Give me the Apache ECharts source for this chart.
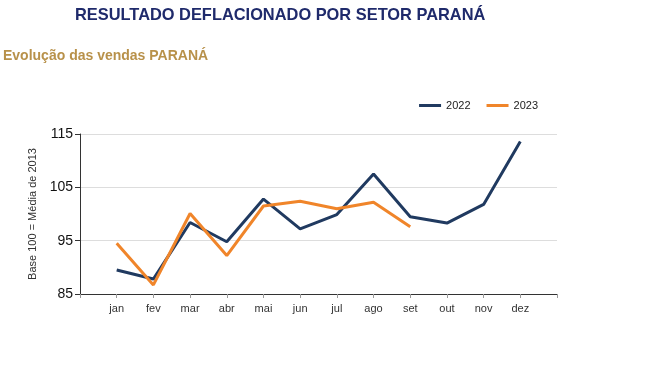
<!DOCTYPE html>
<html>
<head>
<meta charset="utf-8">
<script src="https://cdn.jsdelivr.net/npm/echarts@6/dist/echarts.min.js"></script>
<style>html,body{margin:0;padding:0;background:#fff;}#c{width:650px;height:384px;}</style>
</head>
<body>
<div id="c"></div>
<script>
const months = ['jan','fev','mar','abr','mai','jun','jul','ago','set','out','nov','dez'];
const values2022 = [89.5, 87.8, 98.4, 94.8, 102.8, 97.2, 99.9, 107.5, 99.5, 98.3, 101.8, 113.6];
const values2023 = [94.5, 86.7, 100.1, 92.2, 101.5, 102.4, 101.0, 102.2, 97.6];
const yTicks = [85, 95, 105, 115];

const cats = [''].concat(months, ['']);
const pad = a => [null].concat(a, new Array(13 - a.length).fill(null));

const chart = echarts.init(document.getElementById('c'), null, {renderer: 'canvas'});
chart.setOption({
  animation: false,
  backgroundColor: '#fff',
  title: [
    {text: 'RESULTADO DEFLACIONADO POR SETOR PARANÁ', left: 75, top: 7, padding: 0,
     textStyle: {fontFamily: 'Liberation Sans', fontWeight: 'bold', fontSize: 16.4, color: '#1f2a6b'}},
    {text: 'Evolução das vendas PARANÁ', left: 3, top: 49, padding: 0,
     textStyle: {fontFamily: 'Liberation Sans', fontWeight: 'bold', fontSize: 14, color: '#b8914a'}}
  ],
  legend: {
    right: 107, top: 95, itemWidth: 22, itemHeight: 3, itemGap: 16, icon: 'rect',
    textStyle: {fontFamily: 'Liberation Sans', fontSize: 11, color: '#222'},
    data: ['2022', '2023']
  },
  grid: {left: 80, right: 93, top: 134, bottom: 90},
  xAxis: {
    type: 'category', data: cats, boundaryGap: false,
    axisLine: {lineStyle: {color: '#333', width: 1}},
    axisTick: {show: true, length: 4, lineStyle: {color: '#999'}},
    axisLabel: {interval: 0, fontFamily: 'Liberation Sans', fontSize: 11, color: '#333', margin: 9}
  },
  yAxis: {
    type: 'value', min: 85, max: 115, interval: 10,
    name: 'Base 100 = Média de 2013', nameLocation: 'middle', nameGap: 42,
    nameTextStyle: {fontFamily: 'Liberation Sans', fontSize: 11, color: '#333'},
    axisLine: {show: true, lineStyle: {color: '#333', width: 1}},
    axisTick: {show: true, length: 5, lineStyle: {color: '#333'}},
    axisLabel: {fontFamily: 'Liberation Sans', fontSize: 14, color: '#111', margin: 7,
      formatter: v => yTicks.includes(v) ? String(v) : ''},
    splitLine: {show: true, lineStyle: {color: '#ddd', width: 1}}
  },
  series: [
    {name: '2022', type: 'line', data: pad(values2022), symbol: 'none', connectNulls: false,
     lineStyle: {color: '#203a60', width: 3}, itemStyle: {color: '#203a60'}},
    {name: '2023', type: 'line', data: pad(values2023), symbol: 'none', connectNulls: false,
     lineStyle: {color: '#f0852a', width: 3}, itemStyle: {color: '#f0852a'}}
  ]
});
</script>
</body>
</html>
